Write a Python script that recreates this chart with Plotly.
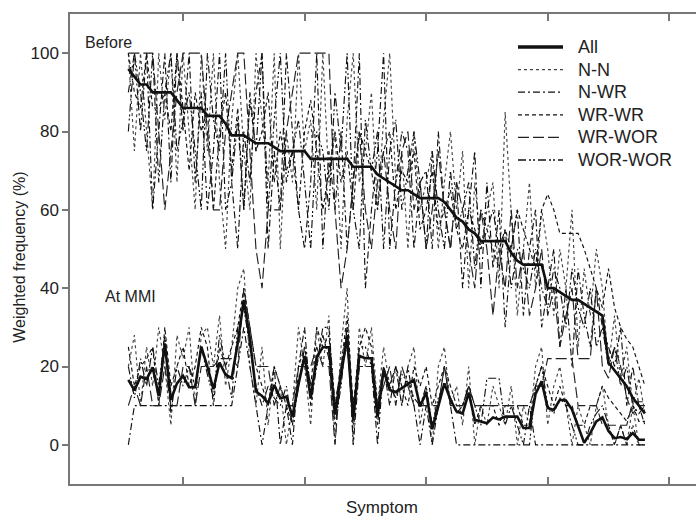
import plotly.graph_objects as go

# Symptom index (sorted by "All" frequency before MMI)
symptoms = list(range(1, 87))

# ---- Before MMI (%) ----
all_before = [96, 94, 92, 92, 90, 90, 90, 90, 88, 86,
              86, 86, 86, 84, 84, 84, 82, 79, 79, 79,
              78, 77, 77, 77, 76, 75, 75, 75, 75, 75,
              73, 73, 73, 73, 73, 73, 73, 71, 71, 71,
              71, 69, 68, 67, 66, 65, 65, 64, 63, 63,
              63, 63, 62, 60, 58, 57, 55, 54, 52, 52,
              52, 52, 52, 49, 47, 46, 46, 46, 46, 40,
              40, 39, 38, 37, 37, 36, 35, 34, 33, 21,
              19, 17, 15, 12, 10, 8]
nn_before = [100, 75, 100, 80, 60, 100, 83, 100, 67, 100,
             80, 60, 100, 75, 100, 67, 50, 83, 100, 75,
             60, 100, 83, 67, 100, 50, 80, 67, 100, 75,
             83, 60, 100, 67, 80, 50, 83, 100, 67, 75,
             90, 60, 83, 100, 67, 75, 50, 80, 60, 67,
             75, 50, 67, 80, 60, 75, 40, 67, 50, 60,
             67, 40, 85, 60, 33, 50, 67, 40, 60, 50,
             33, 50, 40, 60, 25, 45, 33, 50, 40, 20,
             33, 17, 25, 10, 17, 8]
nwr_before = [90, 100, 80, 100, 60, 80, 100, 67, 100, 80,
              100, 67, 90, 60, 75, 100, 60, 67, 50, 80,
              67, 90, 100, 50, 75, 60, 100, 80, 60, 50,
              67, 100, 50, 75, 60, 80, 50, 67, 100, 40,
              60, 75, 100, 50, 67, 80, 75, 50, 67, 70,
              50, 80, 60, 50, 67, 40, 60, 75, 40, 67,
              45, 60, 30, 50, 60, 33, 50, 60, 30, 40,
              50, 25, 40, 20, 45, 33, 25, 40, 30, 25,
              20, 30, 10, 20, 10, 5]
wrwr_before = [100, 90, 86, 100, 86, 86, 90, 80, 100, 86,
               70, 90, 80, 86, 60, 80, 90, 70, 86, 60,
               88, 75, 80, 90, 67, 80, 70, 75, 60, 80,
               88, 75, 60, 70, 80, 67, 75, 60, 80, 75,
               70, 60, 75, 80, 60, 70, 67, 75, 55, 60,
               70, 55, 60, 65, 55, 50, 60, 55, 50, 55,
               50, 45, 55, 50, 60, 55, 50, 45, 60, 64,
               60, 54, 54, 54, 54, 50, 45, 40, 35, 45,
               35, 30, 27, 25, 20, 15]
wrwor_before = [100, 100, 100, 100, 100, 80, 60, 75, 90, 100,
                100, 100, 100, 80, 60, 60, 80, 90, 100, 100,
                75, 50, 40, 60, 60, 60, 80, 90, 100, 100,
                100, 100, 100, 100, 60, 40, 50, 67, 80, 60,
                50, 67, 75, 60, 50, 75, 80, 60, 67, 50,
                60, 75, 60, 50, 67, 60, 50, 40, 60, 50,
                33, 50, 40, 60, 40, 50, 33, 40, 50, 33,
                40, 25, 33, 40, 22, 22, 22, 40, 20, 17,
                25, 20, 12, 8, 10, 10]
worwor_before = [80, 100, 90, 75, 100, 67, 90, 100, 75, 83,
                 90, 75, 60, 100, 83, 75, 100, 67, 83, 60,
                 90, 75, 100, 60, 83, 100, 67, 75, 83, 67,
                 50, 80, 75, 60, 90, 75, 100, 60, 50, 83,
                 70, 80, 50, 75, 83, 60, 70, 80, 67, 50,
                 75, 60, 50, 70, 55, 60, 67, 45, 60, 55,
                 60, 50, 55, 40, 50, 45, 40, 50, 40, 35,
                 45, 40, 30, 45, 35, 30, 40, 25, 30, 20,
                 25, 15, 20, 10, 8, 10]

# ---- At MMI (%) ----
all_mmi = [16.6, 13.9, 17.4, 16.8, 19.8, 12.5, 25.9, 11.5, 15.7, 17.6,
           14.7, 14.7, 25.1, 20, 14.2, 21, 17.9, 17, 26, 37,
           27, 13.6, 12.5, 10.6, 15.3, 11.9, 12.3, 7.2, 15.5, 22.7,
           11.9, 22.5, 24.9, 24.9, 7.7, 18, 27.8, 6.4, 22.7, 22.1,
           22.1, 7.2, 19.1, 14, 13.5, 14.5, 15.5, 16.6, 9.8, 13.4,
           4, 10, 15.7, 11.5, 8.5, 8, 13.3, 6.4, 6, 5.5,
           7, 6.5, 7.2, 7.2, 7.2, 4.3, 4.3, 13, 16.2, 9.4,
           8.9, 11.5, 11.3, 9, 5, 0.5, 3, 6, 7, 3.5,
           1.7, 2, 1.5, 3, 1.3, 1.3]
nn_mmi = [20, 28, 10, 25, 15, 30, 20, 5, 28, 22,
          30, 10, 28, 30, 20, 33, 15, 25, 40, 45,
          20, 10, 25, 5, 20, 15, 0, 10, 30, 20,
          5, 30, 20, 33, 0, 25, 40, 0, 30, 20,
          30, 10, 25, 15, 20, 10, 20, 25, 5, 15,
          0, 20, 25, 10, 15, 5, 20, 0, 10, 5,
          15, 10, 5, 15, 0, 10, 5, 20, 25, 5,
          15, 20, 10, 0, 10, 5, 0, 10, 15, 5,
          0, 5, 0, 10, 0, 0]
nwr_mmi = [0, 10, 10, 10, 10, 10, 10, 10, 10, 10,
           10, 10, 10, 10, 10, 10, 10, 10, 20, 30,
           20, 10, 0, 10, 20, 0, 10, 0, 20, 30,
           10, 20, 30, 30, 10, 20, 30, 0, 20, 20,
           20, 0, 20, 10, 20, 10, 20, 10, 0, 10,
           0, 10, 20, 10, 0, 0, 0, 0, 0, 0,
           0, 0, 0, 0, 0, 0, 10, 0, 0, 0,
           0, 0, 0, 0, 0, 0, 0, 0, 0, 0,
           0, 0, 0, 0, 0, 0]
wrwr_mmi = [25, 15, 20, 22, 25, 10, 30, 15, 20, 25,
            15, 20, 30, 25, 10, 25, 20, 25, 30, 40,
            30, 20, 15, 10, 20, 15, 10, 5, 20, 25,
            15, 30, 25, 28, 10, 20, 33, 10, 25, 30,
            25, 10, 20, 15, 20, 15, 10, 20, 15, 20,
            10, 15, 20, 15, 10, 10, 15, 5, 10, 10,
            10, 5, 10, 10, 10, 5, 5, 15, 20, 15,
            10, 15, 10, 10, 5, 5, 10, 10, 15, 12,
            10, 8, 6, 10, 6, 6]
wrwor_mmi = [10, 15, 10, 20, 10, 10, 20, 10, 10, 20,
             20, 10, 20, 20, 20, 22, 22, 22, 20, 40,
             30, 20, 20, 20, 10, 15, 10, 10, 20, 20,
             20, 25, 20, 20, 0, 20, 25, 10, 20, 20,
             20, 10, 15, 20, 10, 20, 15, 10, 10, 10,
             10, 10, 20, 10, 10, 10, 15, 10, 10, 10,
             10, 10, 10, 10, 10, 10, 10, 15, 15, 22,
             22, 22, 22, 22, 10, 10, 10, 10, 5, 5,
             5, 5, 5, 11, 11, 11]
worwor_mmi = [20, 12, 22, 15, 25, 15, 28, 8, 20, 15,
              20, 15, 25, 18, 12, 28, 20, 12, 30, 35,
              25, 15, 10, 15, 12, 10, 15, 5, 15, 25,
              15, 20, 28, 22, 5, 15, 30, 5, 25, 25,
              20, 5, 20, 15, 12, 18, 16, 12, 10, 15,
              5, 12, 15, 12, 8, 10, 15, 10, 5, 17,
              17, 17, 5, 10, 5, 0, 0, 15, 20, 10,
              8, 12, 10, 5, 0, 0, 5, 8, 10, 5,
              0, 5, 0, 5, 0, 0]

y_ticks = [0, 20, 40, 60, 80, 100]
x_ticks = [10, 30, 50, 70, 90]

FONT = "Liberation Sans, Arial, sans-serif"
TXT = "#222222"
AX = "#777777"

groups = [
    ("N-N", nn_before, nn_mmi, dict(color="#444444", width=1.15, dash="dot")),
    ("N-WR", nwr_before, nwr_mmi, dict(color="#111111", width=1.15, dash="7px,3px,2px,3px")),
    ("WR-WR", wrwr_before, wrwr_mmi, dict(color="#111111", width=1.15, dash="4px,3px")),
    ("WR-WOR", wrwor_before, wrwor_mmi, dict(color="#222222", width=1.15, dash="11px,4px")),
    ("WOR-WOR", worwor_before, worwor_mmi, dict(color="#111111", width=1.15, dash="8px,3px,2px,2px,2px,3px")),
]
all_line = dict(color="#111111", width=2.6)

fig = go.Figure()
for name, before, mmi, line in groups:
    fig.add_trace(go.Scatter(x=symptoms, y=before, mode="lines", name=name,
                             line=line, legendgroup=name, showlegend=False))
    fig.add_trace(go.Scatter(x=symptoms, y=mmi, mode="lines", name=name,
                             line=line, legendgroup=name, showlegend=False))
fig.add_trace(go.Scatter(x=symptoms, y=all_before, mode="lines", name="All",
                         line=all_line, legendgroup="All", showlegend=False))
fig.add_trace(go.Scatter(x=symptoms, y=all_mmi, mode="lines", name="All",
                         line=all_line, legendgroup="All", showlegend=False))

# ---- legend drawn as key lines + labels (paper coordinates) ----
PL, PW, PB, PH = 70, 626, 484, 470          # plot box in pixels


def px_x(p):
    return (p - PL) / PW


def px_y(p):
    return (PB - p) / PH


legend_entries = [("All", dict(color="#111111", width=3.6))] + \
                 [(g[0], dict(g[3], width=1.3)) for g in groups]
shapes, annotations = [], []
for k, (label, line) in enumerate(legend_entries):
    yy = px_y(47 + 22.6 * k)
    shapes.append(dict(type="line", xref="paper", yref="paper",
                       x0=px_x(518), x1=px_x(563), y0=yy, y1=yy, line=line))
    annotations.append(dict(text=label, xref="paper", yref="paper",
                            x=px_x(576), y=yy, xanchor="left", yanchor="middle",
                            showarrow=False, font=dict(size=18, color=TXT)))

annotations += [
    dict(text="Before", xref="paper", yref="y", x=0.02, y=102.8,
         xanchor="left", yanchor="middle", showarrow=False,
         font=dict(size=16, color=TXT)),
    dict(text="At MMI", xref="paper", yref="y", x=0.052, y=37.8,
         xanchor="left", yanchor="middle", showarrow=False,
         font=dict(size=16, color=TXT)),
    dict(text="Weighted frequency (%)", xref="paper", yref="paper",
         x=-0.081, y=0.482, xanchor="center", yanchor="middle",
         textangle=-90, showarrow=False, font=dict(size=16, color=TXT)),
    dict(text="Symptom", xref="paper", yref="paper", x=0.498, y=-0.05,
         xanchor="center", yanchor="middle", showarrow=False,
         font=dict(size=17, color=TXT)),
]

fig.update_layout(
    width=696, height=520,
    margin=dict(l=70, r=0, t=14, b=36, autoexpand=False),
    paper_bgcolor="white", plot_bgcolor="white",
    font=dict(family=FONT, size=16, color=TXT),
    showlegend=False,
    xaxis=dict(range=[-8.6, 94.4], tickvals=x_ticks, showticklabels=False,
               ticks="inside", ticklen=7, tickcolor=AX, tickwidth=1.5,
               showline=True, linecolor=AX, linewidth=1.5, mirror="ticks",
               showgrid=False, zeroline=False),
    yaxis=dict(range=[-10, 110], tickvals=y_ticks, ticks="outside", ticklen=6,
               tickcolor=AX, tickwidth=1.5,
               showline=True, linecolor=AX, linewidth=1.5, mirror=True,
               showgrid=False, zeroline=False, tickfont=dict(size=17, color=TXT)),
    yaxis2=dict(range=[-10, 110], tickvals=y_ticks, overlaying="y", side="right",
                ticks="inside", ticklen=6, tickcolor=AX, tickwidth=1.5,
                showticklabels=False, showline=False, showgrid=False, zeroline=False),
    shapes=shapes,
    annotations=annotations,
)

fig.write_html("out.html", config={"displayModeBar": False},
               post_script="document.body.style.margin='0px';document.body.style.overflow='hidden';")
